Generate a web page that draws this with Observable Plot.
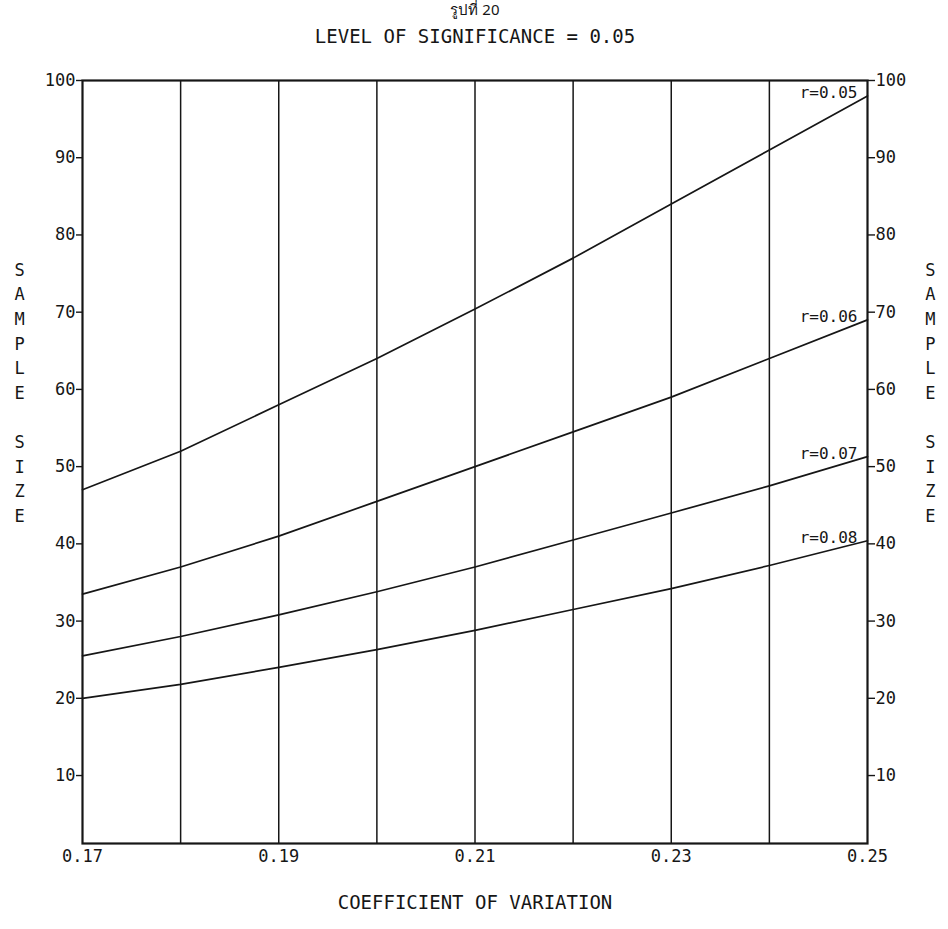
<!DOCTYPE html>
<html>
<head>
<meta charset="utf-8">
<script src="https://cdn.jsdelivr.net/npm/d3@7"></script>
<script src="https://cdn.jsdelivr.net/npm/@observablehq/plot@0.6"></script>
<style>
  body { margin: 0; background: #fff; }
  #chart svg { display: block; }
</style>
</head>
<body>
<div id="chart"></div>
<script>
// Coefficient of variation (x) and required sample size for each precision r
const cv = [0.17, 0.18, 0.19, 0.20, 0.21, 0.22, 0.23, 0.24, 0.25];
const r005 = [47.0, 52.0, 58.0, 64.0, 70.4, 77.0, 84.0, 91.0, 98.0];
const r006 = [33.5, 37.0, 41.0, 45.5, 50.0, 54.5, 59.0, 64.0, 69.0];
const r007 = [25.5, 28.0, 30.8, 33.8, 37.0, 40.5, 44.0, 47.5, 51.3];
const r008 = [20.0, 21.8, 24.0, 26.3, 28.8, 31.5, 34.2, 37.2, 40.4];
const seriesNames = ["r=0.05", "r=0.06", "r=0.07", "r=0.08"];
const seriesValues = [r005, r006, r007, r008];

const yTicks = [10, 20, 30, 40, 50, 60, 70, 80, 90, 100];
const xTicks = [0.17, 0.19, 0.21, 0.23, 0.25];
const gridX = [0.18, 0.19, 0.20, 0.21, 0.22, 0.23, 0.24];

const figureTitle = "รูปที่ 20";
const chartTitle = "LEVEL OF SIGNIFICANCE = 0.05";
const xTitle = "COEFFICIENT OF VARIATION";
const yTitle = "S\nA\nM\nP\nL\nE\n\nS\nI\nZ\nE";

// Long table: one row per (series, cv) point
const rows = seriesNames.flatMap((name, i) =>
  cv.map((c, j) => ({ r: name, cv: c, n: seriesValues[i][j] }))
);
// Last point of each curve, used to place its label
const ends = seriesNames.map((name, i) => ({
  r: name, cv: cv[cv.length - 1], n: seriesValues[i][cv.length - 1]
}));

const font = "'DejaVu Sans Mono', monospace";
const ink = "#161616";

const chart = Plot.plot({
  width: 948,
  height: 929,
  marginLeft: 82,
  marginRight: 81,
  marginTop: 80,
  marginBottom: 86,
  style: { fontFamily: font, fontSize: "16px", color: ink, background: "#fff" },
  x: { domain: [0.17, 0.25] },
  y: { domain: [1.2, 100] },
  marks: [
    Plot.ruleX(gridX, { stroke: ink, strokeWidth: 1.5 }),
    Plot.frame({ stroke: ink, strokeWidth: 2.2 }),
    Plot.axisY(yTicks, {
      anchor: "left", tickSize: 6, tickPadding: 1, fontSize: 17,
      stroke: ink, strokeWidth: 1.4, label: null
    }),
    Plot.axisY(yTicks, {
      anchor: "right", tickSize: 7, tickPadding: 1, fontSize: 17,
      stroke: ink, strokeWidth: 1.4, label: null
    }),
    Plot.axisX(xTicks, {
      anchor: "bottom", tickSize: 0, tickPadding: 6, fontSize: 17,
      tickFormat: d3.format(".2f"), label: null
    }),
    Plot.line(rows, {
      x: "cv", y: "n", z: "r", stroke: ink, strokeWidth: 1.7, curve: "linear"
    }),
    Plot.text(ends, {
      x: "cv", y: "n", text: "r", textAnchor: "end", lineAnchor: "bottom",
      dx: -10, dy: 2, fontSize: 16, fill: ink
    }),
    Plot.text([figureTitle], {
      text: d => d, frameAnchor: "top", dy: -70, lineAnchor: "middle", fontSize: 15,
      fontFamily: "'Noto Sans', 'DejaVu Sans', sans-serif", fill: ink
    }),
    Plot.text([chartTitle], {
      text: d => d, frameAnchor: "top", dy: -51, fontSize: 19, fill: ink
    }),
    Plot.text([xTitle], {
      text: d => d, frameAnchor: "bottom", dy: 65, fontSize: 19, fill: ink
    }),
    Plot.text([yTitle], {
      text: d => d, frameAnchor: "left", dx: -68, dy: -71,
      lineHeight: 1.45, fontSize: 17, fill: ink
    }),
    Plot.text([yTitle], {
      text: d => d, frameAnchor: "right", dx: 68, dy: -71,
      lineHeight: 1.45, fontSize: 17, fill: ink
    })
  ]
});

document.getElementById("chart").append(chart);
</script>
</body>
</html>
